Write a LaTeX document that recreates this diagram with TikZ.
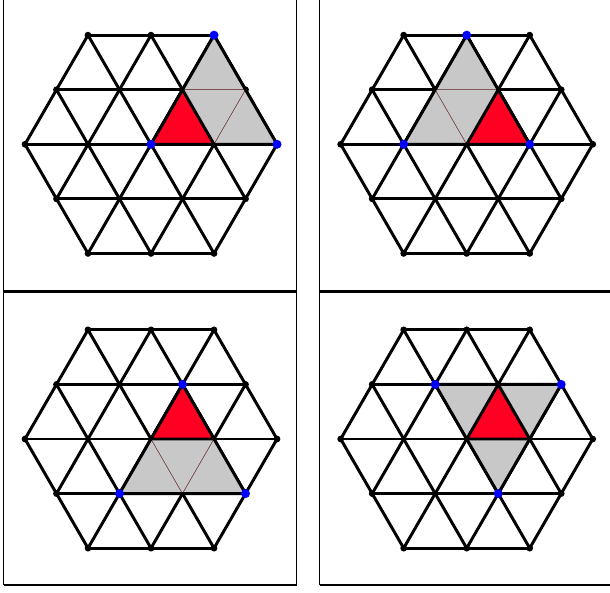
\documentclass[tikz,border=0pt]{standalone}
\usepackage{tikz}
\usetikzlibrary{calc}
\definecolor{trired}{RGB}{255,0,34}
\definecolor{trigray}{RGB}{200,200,200}
\definecolor{dotblue}{RGB}{0,0,255}
\definecolor{edgebrown}{RGB}{110,60,60}
\tikzset{
  gridline/.style={line width=2.1pt, color=black, line join=round},
  graytri/.style={fill=trigray, draw=edgebrown, line width=0.35pt},
  redtri/.style={fill=trired, draw=edgebrown, line width=0.35pt},
  framethin/.style={line width=0.7pt},
  framethick/.style={line width=1.4pt},
  framemid/.style={line width=2.1pt},
}
\pgfmathsetmacro{\hh}{sqrt(3)/2}
% triangular lattice on a hexagon of side 2, black dots on the rim
\newcommand{\hexlattice}{%
  \foreach \r in {0,60,120}
    \foreach \k in {-2,...,2}
      \draw[gridline, rotate=\r] ({-2+abs(\k)/2},{\k*\hh}) -- ({2-abs(\k)/2},{\k*\hh});
  \foreach \a in {0,60,...,300} {
    \fill (\a:2) circle[radius=2.4pt];
    \fill (\a+30:{2*\hh}) circle[radius=2.4pt];
  }
}
\newcommand{\bluedot}[1]{\fill[dotblue] #1 circle[radius=3.2pt];}
\newcommand{\redtriangle}{%
  \fill[trired] (0,0) -- (1,0) -- (0.5,\hh) -- cycle;
  \draw[gridline] (0,0) -- (1,0) -- (0.5,\hh) -- cycle;}

\begin{document}
\begin{tikzpicture}[x=0.025cm, y=0.025cm]
  \useasboundingbox (0,0) rectangle (610,592);
  \clip (0,0) rectangle (610,592);

  % panel frames
  \draw[framethin] (3.5,7) -- (3.5,593) (319.5,7) -- (319.5,593);
  \draw[framethick] (296.5,6.3) -- (296.5,593);
  \draw[framemid] (3.5,300.5) -- (296.5,300.5) (319.5,300.5) -- (611,300.5);
  \draw[framethick] (3.5,7) -- (297.2,7) (319.5,7) -- (611,7);

  % top left
  \begin{scope}[shift={(151,447.7)}, x=1.575cm, y=1.575cm]
    \hexlattice
    \filldraw[graytri] (0.5,\hh) -- (1,2*\hh) -- (1.5,\hh) -- cycle;
    \filldraw[graytri] (0.5,\hh) -- (1.5,\hh) -- (1,0) -- cycle;
    \filldraw[graytri] (1,0) -- (1.5,\hh) -- (2,0) -- cycle;
    \draw[gridline] (0,0) -- (2,0) -- (1,2*\hh) -- cycle;
    \redtriangle
    \bluedot{(0,0)} \bluedot{(2,0)} \bluedot{(1,2*\hh)}
  \end{scope}

  % top right
  \begin{scope}[shift={(466.7,447.7)}, x=1.575cm, y=1.575cm]
    \hexlattice
    \filldraw[graytri] (-1,0) -- (0,0) -- (-0.5,\hh) -- cycle;
    \filldraw[graytri] (0,0) -- (0.5,\hh) -- (-0.5,\hh) -- cycle;
    \filldraw[graytri] (-0.5,\hh) -- (0.5,\hh) -- (0,2*\hh) -- cycle;
    \draw[gridline] (-1,0) -- (1,0) -- (0,2*\hh) -- cycle;
    \redtriangle
    \bluedot{(-1,0)} \bluedot{(1,0)} \bluedot{(0,2*\hh)}
  \end{scope}

  % bottom left
  \begin{scope}[shift={(151,153)}, x=1.575cm, y=1.575cm]
    \hexlattice
    \filldraw[graytri] (-0.5,-\hh) -- (0.5,-\hh) -- (0,0) -- cycle;
    \filldraw[graytri] (0,0) -- (0.5,-\hh) -- (1,0) -- cycle;
    \filldraw[graytri] (0.5,-\hh) -- (1.5,-\hh) -- (1,0) -- cycle;
    \draw[gridline] (-0.5,-\hh) -- (1.5,-\hh) -- (0.5,\hh) -- cycle;
    \redtriangle
    \bluedot{(0.5,\hh)} \bluedot{(-0.5,-\hh)} \bluedot{(1.5,-\hh)}
  \end{scope}

  % bottom right
  \begin{scope}[shift={(466.7,153)}, x=1.575cm, y=1.575cm]
    \hexlattice
    \filldraw[graytri] (-0.5,\hh) -- (0.5,\hh) -- (0,0) -- cycle;
    \filldraw[graytri] (0.5,\hh) -- (1.5,\hh) -- (1,0) -- cycle;
    \filldraw[graytri] (0,0) -- (1,0) -- (0.5,-\hh) -- cycle;
    \draw[gridline] (-0.5,\hh) -- (1.5,\hh) -- (0.5,-\hh) -- cycle;
    \redtriangle
    \bluedot{(-0.5,\hh)} \bluedot{(1.5,\hh)} \bluedot{(0.5,-\hh)}
  \end{scope}
\end{tikzpicture}
\end{document}
